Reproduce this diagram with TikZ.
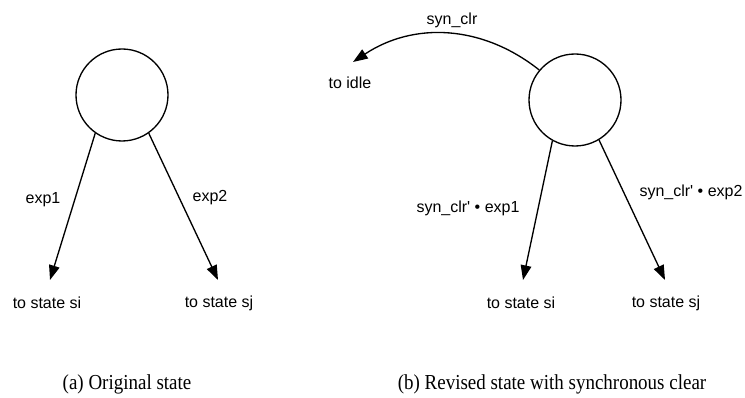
\documentclass[tikz,border=0pt]{standalone}
\usepackage{fontspec}
\setmainfont{Liberation Serif}
\newfontfamily\lblfont{Liberation Sans}
\usetikzlibrary{arrows.meta}

\begin{document}
\begin{tikzpicture}[x=0.75pt, y=-0.75pt,
    state/.style={draw, line width=1pt, circle, minimum size=69pt, inner sep=0pt},
    lbl/.style={font=\lblfont\fontsize{12}{14}\selectfont, inner sep=0pt},
    captxt/.style={font=\fontsize{16}{19}\selectfont, inner sep=0pt, xscale=0.89, transform shape},
    arr/.style={line width=1pt, -{Triangle[length=11pt, width=8pt]}}]
      \useasboundingbox (0,0) rectangle (745,398);

      % Original state
      \node[state] (orig) at (122,95) {};
      \coordinate (origSi) at (50,280);
      \coordinate (origSj) at (218,280);
      \draw[arr] (orig.235) -- (origSi);
      \draw[arr] (orig.305) -- (origSj);
      \node[lbl] (origExpA) at (43,200) {exp1};
      \node[lbl] (origExpB) at (210,198) {exp2};
      \node[lbl] (origSiTxt) at (47,303) {to state si};
      \node[lbl] (origSjTxt) at (219,303) {to state sj};

      % Revised state
      \node[state] (rev) at (575,100) {};
      \coordinate (revSi) at (523,280);
      \coordinate (revSj) at (665,280);
      \coordinate (revIdle) at (353,62);
      \draw[arr] (rev.241) -- (revSi);
      \draw[arr] (rev.301) -- (revSj);
      \draw[arr] (rev.140) to[bend right=36] (revIdle);
      \node[lbl] (revClr) at (452,20) {syn\_clr};
      \node[lbl] (revIdleTxt) at (350,83) {to idle};
      \node[lbl] (revExpA) at (468,208) {syn\_clr' • exp1};
      \node[lbl] (revExpB) at (691,192) {syn\_clr' • exp2};
      \node[lbl] (revSiTxt) at (521,303) {to state si};
      \node[lbl] (revSjTxt) at (666,303) {to state sj};

      % Captions
      \node[captxt] (capA) at (127,384) {(a) Original state};
      \node[captxt] (capB) at (552,384) {(b) Revised state with synchronous clear};
\end{tikzpicture}
\end{document}
